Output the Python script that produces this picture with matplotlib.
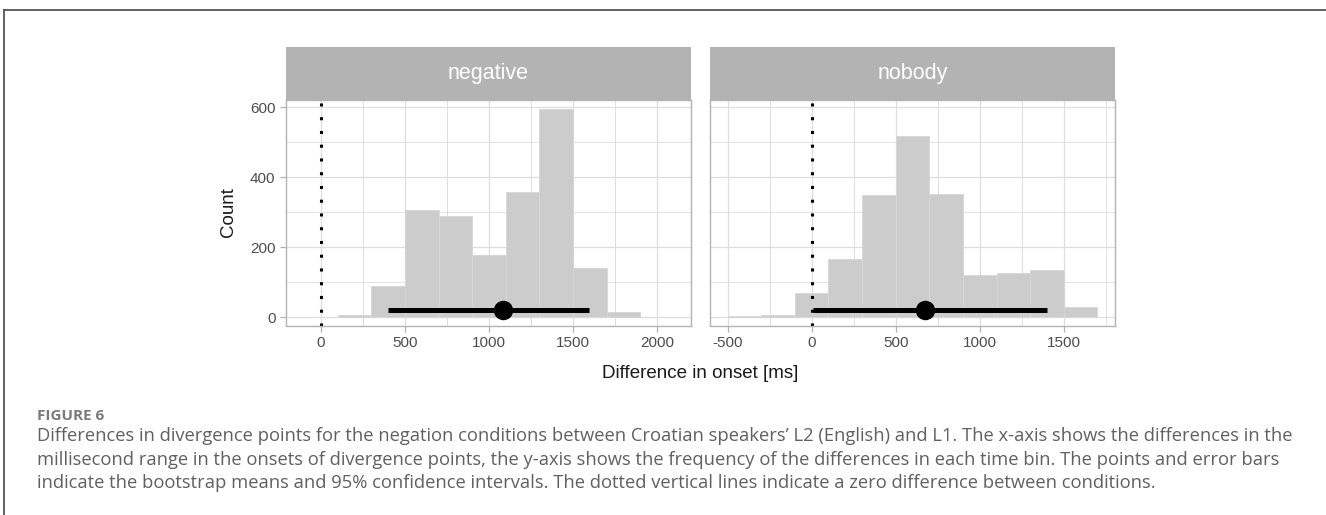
import matplotlib
matplotlib.use("Agg")
import matplotlib.pyplot as plt
from matplotlib.lines import Line2D

# histogram bins (left edges, width 200 ms) and counts
bin_width = 200
neg_edges = [100, 300, 500, 700, 900, 1100, 1300, 1500, 1700]
neg_counts = [5, 88, 305, 289, 178, 357, 593, 140, 15]
nob_edges = [-500, -300, -100, 100, 300, 500, 700, 900, 1100, 1300, 1500]
nob_counts = [4, 7, 70, 165, 348, 516, 351, 119, 126, 135, 28]

# bootstrap mean and 95% CI
neg_mean, neg_lo, neg_hi = 1081, 401, 1597
nob_mean, nob_lo, nob_hi = 677, 5, 1400
ci_y = 20

panels = ["negative", "nobody"]
y_ticks = [0, 200, 400, 600]
neg_xticks = [0, 500, 1000, 1500, 2000]
nob_xticks = [-500, 0, 500, 1000, 1500]

caption_head = "FIGURE 6"
caption_lines = [
    "Differences in divergence points for the negation conditions between Croatian speakers\u2019 L2 (English) and L1. The x-axis shows the differences in the",
    "millisecond range in the onsets of divergence points, the y-axis shows the frequency of the differences in each time bin. The points and error bars",
    "indicate the bootstrap means and 95% confidence intervals. The dotted vertical lines indicate a zero difference between conditions.",
]

W, H = 1326, 515
fig = plt.figure(figsize=(W / 100, H / 100), dpi=100)
plt.rcParams["font.family"] = "Liberation Sans"

grey70 = "#b3b3b3"
grid_col = "#dedede"


def px_axes(x0, y0, x1, y1):
    return fig.add_axes([x0 / W, 1 - y1 / H, (x1 - x0) / W, (y1 - y0) / H])


def draw_panel(x0, x1, edges, counts, mean, lo, hi, xlim, xticks, title, show_y):
    ax = px_axes(x0, 100, x1, 326)
    ax.set_xlim(*xlim)
    ax.set_ylim(-25.7, 620)
    # grid
    for v in xticks:
        ax.axvline(v, color=grid_col, lw=0.9, zorder=0)
    for v in xticks:
        ax.axvline(v + 250, color=grid_col, lw=0.6, zorder=0)
        ax.axvline(v - 250, color=grid_col, lw=0.6, zorder=0)
    for v in y_ticks:
        ax.axhline(v, color=grid_col, lw=0.9, zorder=0)
    for v in [100, 300, 500]:
        ax.axhline(v, color=grid_col, lw=0.6, zorder=0)
    ax.bar(edges, counts, width=bin_width, align="edge", color="#cccccc",
           edgecolor="#d6d6d6", linewidth=0.6, zorder=1)
    ax.axvline(0, color="black", lw=2.2, linestyle=(0, (1, 3.5)), zorder=2)
    ax.plot([lo, hi], [ci_y, ci_y], color="black", lw=3.6, solid_capstyle="butt", zorder=3)
    ax.plot([mean], [ci_y], "o", color="black", markersize=13, zorder=4)
    ax.set_xticks(xticks)
    ax.set_xticklabels([str(t) for t in xticks])
    ax.set_yticks(y_ticks)
    if show_y:
        ax.set_yticklabels([str(t) for t in y_ticks])
    else:
        ax.tick_params(axis="y", left=False, labelleft=False)
    ax.tick_params(colors=grey70, labelcolor="#4d4d4d", labelsize=11, length=4.5, width=0.9, pad=3)
    for s in ax.spines.values():
        s.set_color(grey70)
        s.set_linewidth(1.0)
    # strip
    st = px_axes(x0, 47, x1, 100)
    st.set_facecolor(grey70)
    st.set_xticks([])
    st.set_yticks([])
    for s in st.spines.values():
        s.set_visible(False)
    st.text(0.5, 0.5, title, color="white", fontsize=15.5, ha="center", va="center",
            transform=st.transAxes)
    return ax


draw_panel(286, 691, neg_edges, neg_counts, neg_mean, neg_lo, neg_hi,
           (-208, 2202), neg_xticks, panels[0], True)
draw_panel(710, 1115, nob_edges, nob_counts, nob_mean, nob_lo, nob_hi,
           (-605, 1805), nob_xticks, panels[1], False)

fig.text(228 / W, 1 - 212 / H, "Count", rotation=90, fontsize=13.5, color="#1a1a1a",
         ha="center", va="center")
fig.text(700 / W, 1 - 373 / H, "Difference in onset [ms]", fontsize=13.5, color="#1a1a1a",
         ha="center", va="center")

# frame lines (top and left)
fig.add_artist(Line2D([4 / W, 1], [1 - 10 / H, 1 - 10 / H], color="#555555", lw=1.3,
                      transform=fig.transFigure))
fig.add_artist(Line2D([4 / W, 4 / W], [0, 1 - 10 / H], color="#555555", lw=1.3,
                      transform=fig.transFigure))

fig.text(37 / W, 1 - 420 / H, caption_head, fontsize=11, fontweight="bold", color="#7a7a7a",
         family="Open Sans", ha="left", va="baseline")
for i, line in enumerate(caption_lines):
    fig.text(37 / W, 1 - (441 + 23.6 * i) / H, line, fontsize=13.2, color="#606060",
             family="Open Sans", ha="left", va="baseline")

fig.savefig("out.png", dpi=100)
